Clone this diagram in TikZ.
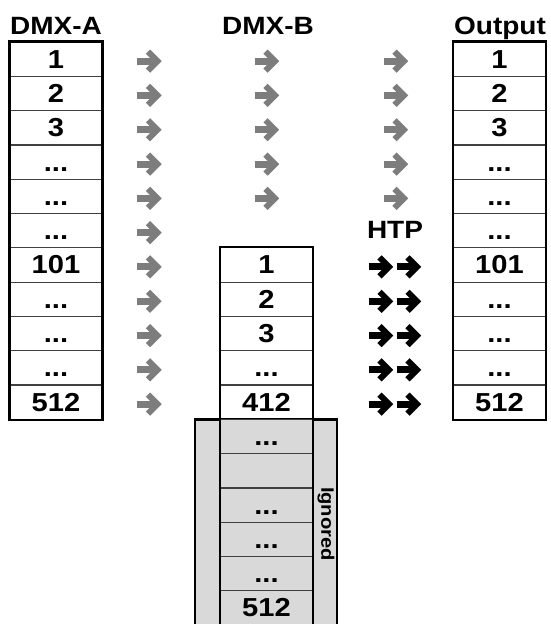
\documentclass[tikz,border=0pt]{standalone}
\usepackage{fontspec}
\setmainfont[FakeStretch=1.12]{Liberation Sans}
\usepackage{tikz}
\usetikzlibrary{positioning}
\definecolor{DMXGrey}{RGB}{217,217,217}
\definecolor{DMXArrow}{RGB}{125,125,125}
\definecolor{DMXRule}{RGB}{64,64,64}
\newcommand{\ellip}{...}
% one heavy arrow, shifted by #1 from the node centre
\newcommand{\dmxhead}[1]{%
  \draw[line width=7pt] ([xshift=#1-12.5pt]path picture bounding box.center) -- ++(18.5pt,0);
  \draw[line width=6pt, line join=miter] ([shift={(#1-1.5pt,9.5pt)}]path picture bounding box.center)
    -- ++(9.5pt,-9.5pt) -- ++(-9.5pt,-9.5pt);
}

\tikzset{
  cell/.style={draw=DMXRule, line width=1.2pt, minimum width=92pt, minimum height=34.3pt,
    inner sep=0pt, text height=18pt, text depth=0pt, font=\fontsize{26}{26}\selectfont\bfseries},
  outline/.style={draw=black, line width=2.4pt},
  coltitle/.style={anchor=base, inner sep=0pt, font=\fontsize{25}{25}\selectfont\bfseries},
  greyarrow/.style={inner sep=0pt, minimum width=30pt, minimum height=28pt, color=DMXArrow,
    path picture={\dmxhead{0pt}}},
  blackarrow/.style={inner sep=0pt, minimum width=60pt, minimum height=28pt, color=black,
    path picture={\dmxhead{-14pt}\dmxhead{14pt}}}
}

\begin{document}
\begin{tikzpicture}[x=1pt, y=-1pt]
    \useasboundingbox (0,0) rectangle (550,624);
    % ignored part of DMX-B
    \filldraw[fill=DMXGrey, outline] (195,419.3) rectangle (337,640);
    % DMX-A, output and the first arrow column
    \foreach \lbl [count=\i] in {1,2,3,\ellip,\ellip,\ellip,101,\ellip,\ellip,\ellip,512} {
      \node[cell] (a\i) at (56,{42+(\i-0.5)*34.3}) {\lbl};
      \node[cell] (o\i) at (499.5,{42+(\i-0.5)*34.3}) {\lbl};
      \node[greyarrow] (ga\i) at (149.5,{44+(\i-0.5)*34.3}) {};
    }
    \foreach \i in {1,...,5} {
      \node[greyarrow] (gb\i) at (267,{44+(\i-0.5)*34.3}) {};
      \node[greyarrow] (go\i) at (396,{44+(\i-0.5)*34.3}) {};
    }
    % DMX-B
    \foreach \lbl [count=\i from 7] in {1,2,3,\ellip,412}
      \node[cell] (b\i) at (266.5,{42+(\i-0.5)*34.3}) {\lbl};
    \foreach \lbl [count=\i from 12] in {\ellip,{},\ellip,\ellip,\ellip,512}
      \node[cell, fill=DMXGrey] (b\i) at (266.5,{42+(\i-0.5)*34.3}) {\lbl};
    % HTP merge
    \node[coltitle] (htp) at (395,238.8) {HTP};
    \foreach \i in {7,...,11}
      \node[blackarrow] (h\i) at (395,{44+(\i-0.5)*34.3}) {};
    \draw[outline] (a1.north west) rectangle (a11.south east);
    \draw[outline] (o1.north west) rectangle (o11.south east);
    \draw[outline] (b7.north west) rectangle (b17.south east);
    \node[rotate=-90, inner sep=0pt, font=\fontsize{18}{18}\selectfont\bfseries] (ign) at (326,524) {Ignored};
    % titles
    \node[coltitle] (ta) at (56,34) {DMX-A};
    \node[coltitle] (tb) at (268,34) {DMX-B};
    \node[coltitle] (to) at (500,34) {Output};
\end{tikzpicture}
\end{document}
